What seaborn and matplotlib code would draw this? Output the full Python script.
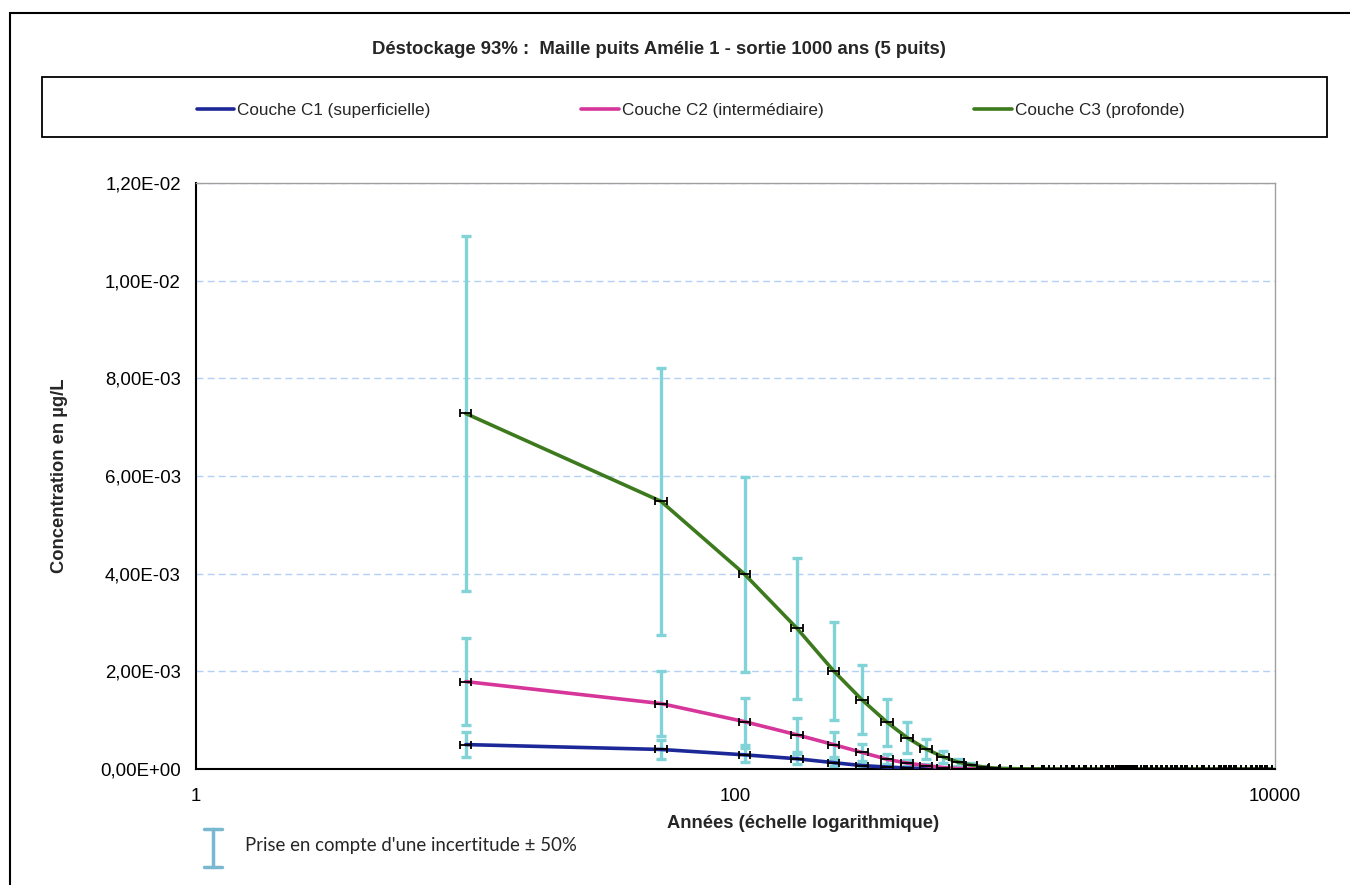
import numpy as np
import pandas as pd
import seaborn as sns
import matplotlib.pyplot as plt
from matplotlib import ticker
from matplotlib.patches import Rectangle
from matplotlib.lines import Line2D

# annees de sortie (echelle log)
years = [10, 53, 108, 169, 231, 294, 364, 433, 508, 587,
         668, 750, 830, 910, 1000, 1100, 1205, 1325, 1445, 1530,
         1600, 1690, 1785, 1890, 1975, 2060, 2180, 2280, 2380, 2480,
         2550, 2625, 2700, 2780, 2860, 2940, 3025, 3115, 3205, 3345,
         3490, 3640, 3800, 3965, 4135, 4315, 4500, 4700, 4900, 5190,
         5420, 5650, 5990, 6250, 6520, 6800, 7100, 7410, 7850, 8190,
         8550, 8920, 9300, 9700]

c1 = [0.00050, 0.00040, 0.00029, 0.00021, 0.00013, 0.00007, 0.00004, 0.00002, 0.00001, 0.000005,
      0.000002, 0.000001, 0, 0, 0, 0, 0, 0, 0, 0,
      0, 0, 0, 0, 0, 0, 0, 0, 0, 0,
      0, 0, 0, 0, 0, 0, 0, 0, 0, 0,
      0, 0, 0, 0, 0, 0, 0, 0, 0, 0,
      0, 0, 0, 0, 0, 0, 0, 0, 0, 0,
      0, 0, 0, 0]

c2 = [0.00179, 0.00134, 0.00097, 0.00070, 0.00050, 0.00034, 0.00020, 0.00012, 0.00007, 0.00003,
      0.00001, 0.000005, 0.000002, 0.000001, 0, 0, 0, 0, 0, 0,
      0, 0, 0, 0, 0, 0, 0, 0, 0, 0,
      0, 0, 0, 0, 0, 0, 0, 0, 0, 0,
      0, 0, 0, 0, 0, 0, 0, 0, 0, 0,
      0, 0, 0, 0, 0, 0, 0, 0, 0, 0,
      0, 0, 0, 0]

c3 = [0.00728, 0.00548, 0.00399, 0.00288, 0.00201, 0.00142, 0.00096, 0.00064, 0.00041, 0.00025,
      0.00014, 0.00008, 0.00004, 0.00002, 0.00001, 0.000005, 0.000003, 0.000002, 0.000001, 0.000001,
      0, 0, 0, 0, 0, 0, 0, 0, 0, 0,
      0, 0, 0, 0, 0, 0, 0, 0, 0, 0,
      0, 0, 0, 0, 0, 0, 0, 0, 0, 0,
      0, 0, 0, 0, 0, 0, 0, 0, 0, 0,
      0, 0, 0, 0]

series = ['Couche C1 (superficielle)', 'Couche C2 (intermédiaire)', 'Couche C3 (profonde)']
colors = ['#1c2898', '#d6359a', '#3d7a1e']

df = pd.concat([pd.DataFrame({'Années': years, 'Concentration': vals, 'Couche': name})
                for name, vals in zip(series, [c1, c2, c3])], ignore_index=True)

sns.set_style('white')
plt.rcParams['font.family'] = ['Liberation Sans', 'DejaVu Sans']

fig = plt.figure(figsize=(13.5, 8.85), dpi=100)
ax = fig.add_axes([196/1350, 1-769/885, (1275-196)/1350, (769-183)/885])

# barres d'incertitude +-50% (cyan) puis +-5% en x (noir)
for vals in [c1, c2, c3]:
    v = np.array(vals)
    ax.errorbar(years, v, yerr=0.5*v, fmt='none', ecolor='#82d3d8', elinewidth=2.4,
                capsize=3.8, capthick=2.4, zorder=2)

sns.lineplot(data=df, x='Années', y='Concentration', hue='Couche', palette=colors,
             linewidth=2.6, sort=False, ax=ax, zorder=3)

for vals in [c1, c2, c3]:
    x = np.array(years)
    ax.errorbar(years, vals, xerr=[0.05*x, 0.05*x], fmt='none', ecolor='black',
                elinewidth=1.3, capsize=3, capthick=1.3, zorder=4)

ax.set_xscale('log')
ax.set_xlim(1, 10000)
ax.set_ylim(0, 0.012)
ax.xaxis.set_major_locator(ticker.FixedLocator([1, 100, 10000]))
ax.xaxis.set_minor_locator(ticker.NullLocator())
ax.xaxis.set_major_formatter(ticker.FuncFormatter(lambda v, p: '%d' % v))
ax.yaxis.set_major_locator(ticker.MultipleLocator(0.002))
ax.yaxis.set_major_formatter(ticker.FuncFormatter(lambda v, p: ('%.2E' % v).replace('.', ',')))
ax.tick_params(axis='both', direction='out', length=4, width=1.2, labelsize=13.4, colors='black')
ax.tick_params(axis='y', pad=7)
ax.tick_params(axis='x', pad=10)
ax.yaxis.grid(True, linestyle=(0, (5, 3)), color='#b3d1f5', linewidth=1)
ax.set_axisbelow(True)
for s in ['left', 'bottom']:
    ax.spines[s].set_color('black')
    ax.spines[s].set_linewidth(1.5)
for s in ['top', 'right']:
    ax.spines[s].set_color('#a0a0a0')
    ax.spines[s].set_linewidth(1)
ax.set_xlabel('')
ax.set_ylabel('')

handles, labels = ax.get_legend_handles_labels()
ax.get_legend().remove()
fig.legend(handles, labels, loc='center', bbox_to_anchor=(690.5/1350, 1-110/885), ncol=3,
           frameon=False, fontsize=12.3, handlelength=2.2, handletextpad=0.15, columnspacing=8.85)

# cadres
fig.add_artist(Rectangle((42/1350, 1-137/885), (1327-42)/1350, 60/885, transform=fig.transFigure,
                         fill=False, edgecolor='black', linewidth=1.3))
fig.add_artist(Rectangle((10/1350, -0.1), 1.0, 1.1-13/885, transform=fig.transFigure,
                         fill=False, edgecolor='black', linewidth=1.5))

fig.text(659/1350, 1-49/885, 'Déstockage 93% :  Maille puits Amélie 1 - sortie 1000 ans (5 puits)',
         ha='center', va='center', fontsize=13.3, fontweight='bold')
fig.text(60/1350, 1-476/885, 'Concentration en µg/L', rotation=90, ha='center', va='center',
         fontsize=13.2, fontweight='bold')
fig.text(803/1350, 1-823/885, 'Années (échelle logarithmique)', ha='center', va='center',
         fontsize=13.2, fontweight='bold')

# symbole incertitude
ic = '#7ab8d0'
fig.add_artist(Line2D([213/1350, 213/1350], [1-829/885, 1-867/885], color=ic, lw=2.5, transform=fig.transFigure))
fig.add_artist(Line2D([204/1350, 222/1350], [1-829/885, 1-829/885], color=ic, lw=2.5, transform=fig.transFigure))
fig.add_artist(Line2D([204/1350, 222/1350], [1-867/885, 1-867/885], color=ic, lw=2.5, transform=fig.transFigure))
fig.text(245/1350, 1-846/885, "Prise en compte d'une incertitude ± 50%", ha='left', va='center',
         fontsize=13.4, family=['Lato', 'DejaVu Sans'])

fig.savefig('out.png', dpi=100)
